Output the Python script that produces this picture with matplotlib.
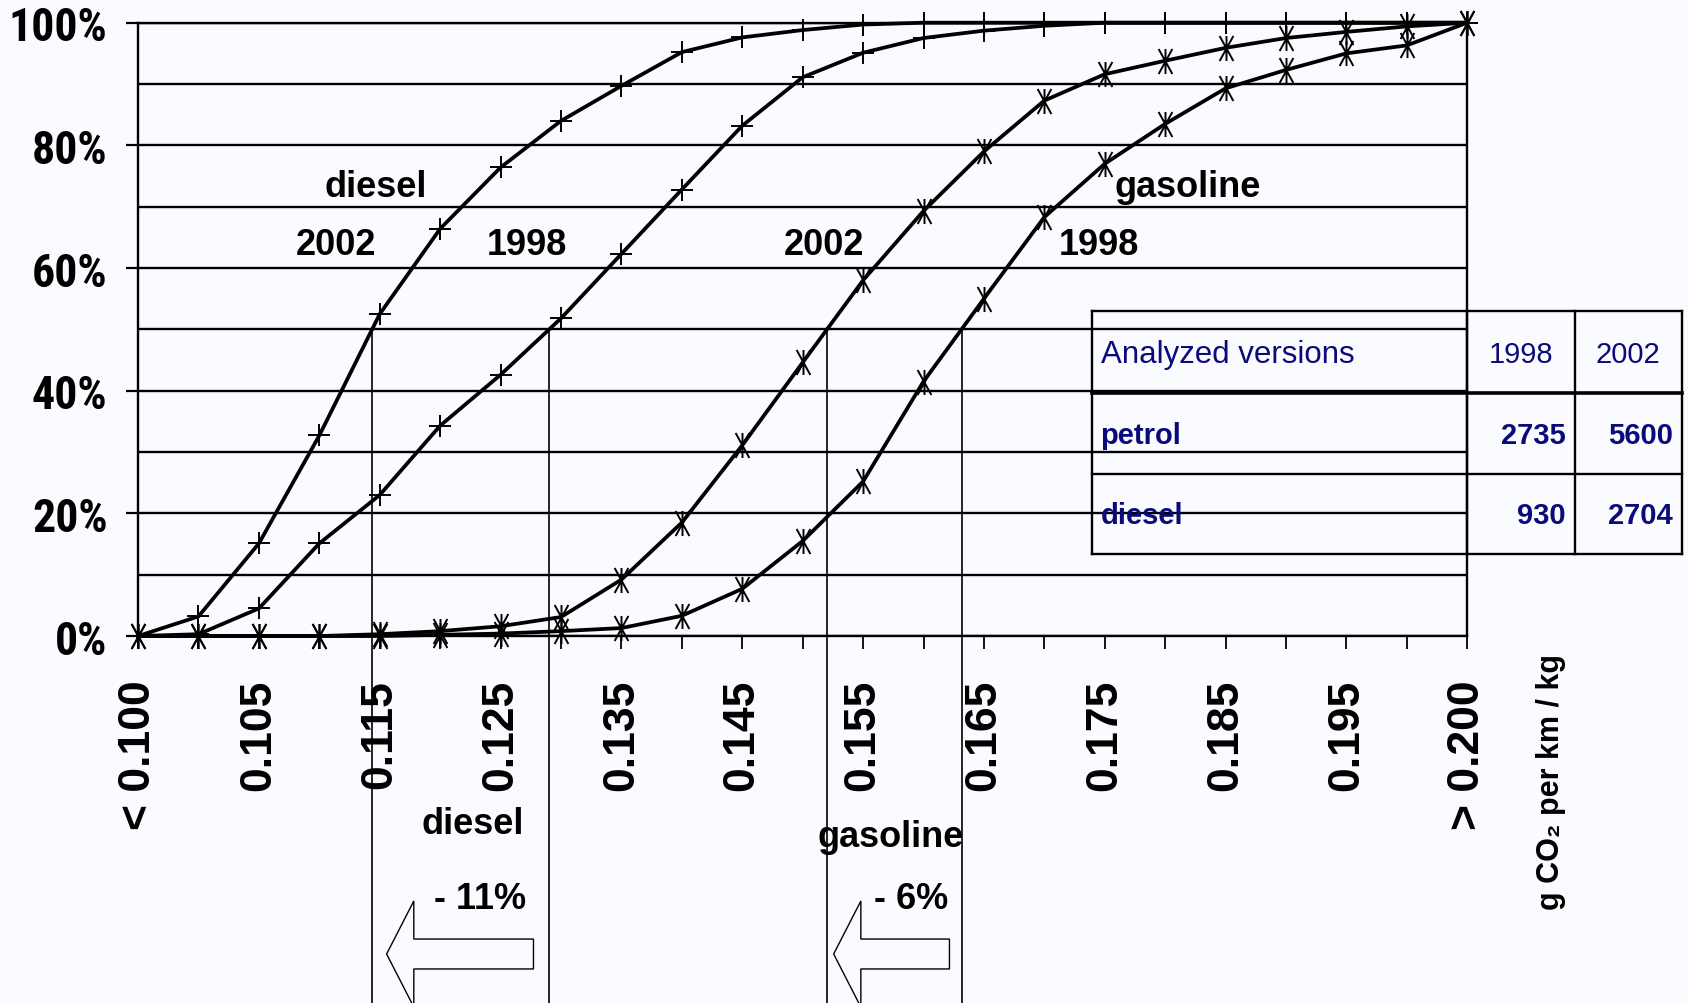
"""Cumulative distribution of CO2 per km / kg, diesel vs gasoline, 1998 vs 2002."""

import matplotlib

matplotlib.use("Agg")
import matplotlib.pyplot as plt
import numpy as np
from matplotlib import font_manager
from matplotlib.patches import Polygon
from matplotlib.path import Path
from matplotlib.transforms import blended_transform_factory

# ---- data -------------------------------------------------------------
categories = [
    "< 0.100", "0.100", "0.105", "0.110", "0.115", "0.120", "0.125", "0.130",
    "0.135", "0.140", "0.145", "0.150", "0.155", "0.160", "0.165", "0.170",
    "0.175", "0.180", "0.185", "0.190", "0.195", "0.200", "> 0.200",
]
diesel_2002 = [0, 3.2, 15.1, 32.7, 52.5, 66.4, 76.4, 84.0, 89.7, 95.2, 97.6, 98.8,
               99.7, 100, 100, 100, 100, 100, 100, 100, 100, 100, 100]
diesel_1998 = [0, 0.3, 4.5, 15.1, 23.0, 34.3, 42.6, 51.8, 62.3, 72.8, 83.2, 91.1,
               95.1, 97.5, 98.7, 99.5, 100, 100, 100, 100, 100, 100, 100]
gasoline_2002 = [0, 0, 0, 0, 0.3, 0.8, 1.6, 3.1, 9.2, 18.5, 31.1, 44.6,
                 58.0, 69.3, 79.0, 87.3, 91.6, 93.8, 95.9, 97.5, 98.5, 99.4, 100]
gasoline_1998 = [0, 0, 0, 0, 0, 0.2, 0.4, 0.8, 1.3, 3.3, 7.7, 15.5,
                 25.2, 41.5, 55.0, 68.3, 77.0, 83.5, 89.3, 92.3, 95.0, 96.3, 100]

pct_ticks = [0, 20, 40, 60, 80, 100]
pct_labels = ["0%", "20%", "40%", "60%", "80%", "100%"]
median_level = 50

table_header = ["Analyzed versions", "1998", "2002"]
table_fuels = ["petrol", "diesel"]
versions_1998 = [2735, 930]
versions_2002 = [5600, 2704]

diesel_cut = "- 11%"
gasoline_cut = "- 6%"

# ---- style ------------------------------------------------------------
BG = "#fafbff"
NAVY = "#0a0a78"
available = {f.name for f in font_manager.fontManager.ttflist}
NARROW = next((n for n in ("Liberation Sans Narrow", "DejaVu Sans Condensed",
                           "Roboto Condensed") if n in available), "Liberation Sans")
SANS = ["Liberation Sans", "DejaVu Sans"]
plt.rcParams["font.family"] = SANS

star = Path([(0, -1), (0, 1), (-0.55, -1), (0.55, 1), (0.55, -1), (-0.55, 1)],
            [Path.MOVETO, Path.LINETO] * 3)

fig = plt.figure(figsize=(16.9, 10.04), dpi=100, facecolor=BG)
ax = fig.add_axes([0.0817, 0.3655, 0.7865, 0.6109])
ax.set_facecolor(BG)
ax.set_axisbelow(True)

x = np.arange(len(categories))
series = [
    (diesel_2002, "+", 16),
    (diesel_1998, "+", 16),
    (gasoline_2002, star, 18),
    (gasoline_1998, star, 18),
]
for vals, marker, ms in series:
    ax.plot(x, vals, color="black", lw=2.7, marker=marker, ms=ms, mew=1.4,
            mec="black", clip_on=False, zorder=3)

ax.set_xlim(0, len(categories) - 1)
ax.set_ylim(0, 100)

ax.set_yticks(pct_ticks, pct_labels)
ax.set_yticks([10, 30, 50, 70, 90], minor=True)
ax.grid(which="both", axis="y", color="black", lw=1.7)
ax.tick_params(axis="y", which="major", length=9, width=1.6, pad=13,
               labelsize=33)
ax.tick_params(axis="y", which="minor", length=0)
for lab in ax.get_yticklabels():
    lab.set_fontfamily(NARROW)
    lab.set_fontweight("bold")

ax.set_xticks(x, [c if i % 2 == 0 else "" for i, c in enumerate(categories)],
              rotation=90, fontsize=32, fontweight="bold")
ax.tick_params(axis="x", length=9, width=1.3, pad=22)
for sp in ax.spines.values():
    sp.set_linewidth(1.7)

# ---- median drop lines --------------------------------------------------
y_bottom = ax.transData.inverted().transform(fig.transFigure.transform((0, 0)))[1]


def cross_x(vals, level):
    vals = np.asarray(vals, dtype=float)
    i = int(np.argmax(vals >= level))
    return i - 1 + (level - vals[i - 1]) / (vals[i] - vals[i - 1])


cross = {}
for name, vals in (("d02", diesel_2002), ("d98", diesel_1998),
                   ("g02", gasoline_2002), ("g98", gasoline_1998)):
    cross[name] = cross_x(vals, median_level)
    ax.plot([cross[name]] * 2, [median_level, y_bottom], color="black", lw=1.2,
            clip_on=False, zorder=2)

# ---- annotations ----------------------------------------------------------
mix = blended_transform_factory(ax.transData, fig.transFigure)
label_kw = dict(ha="center", va="center", fontsize=26, fontweight="bold")

ax.text(3.93, 73.3, "diesel", **label_kw)
ax.text(3.27, 63.8, "2002", **label_kw)
ax.text(6.43, 63.8, "1998", **label_kw)
ax.text(11.36, 63.8, "2002", **label_kw)
ax.text(15.91, 63.8, "1998", **label_kw)
ax.text(17.37, 73.3, "gasoline", **label_kw)

ax.text(5.54, 0.179, "diesel", transform=mix, **label_kw)
ax.text(5.66, 0.104, diesel_cut, transform=mix, **label_kw)
ax.text(12.45, 0.166, "gasoline", transform=mix, **label_kw)
ax.text(12.80, 0.104, gasoline_cut, transform=mix, **label_kw)

ax.text(23.38, 0.349, "g CO\u2082 per km / kg", transform=mix, rotation=90,
        ha="center", va="top", fontsize=22, fontweight="bold")


def block_arrow(x_tip, x_tail, yc=0.0488, shaft=0.0149, head=0.0528, head_len=0.45):
    xb = x_tip + head_len
    verts = [(x_tip, yc), (xb, yc + head), (xb, yc + shaft), (x_tail, yc + shaft),
             (x_tail, yc - shaft), (xb, yc - shaft), (xb, yc - head)]
    ax.add_patch(Polygon(verts, closed=True, transform=mix, facecolor=BG,
                         edgecolor="black", lw=1.0, clip_on=False, zorder=4))


block_arrow(cross["d02"] + 0.24, cross["d98"] - 0.26)
block_arrow(cross["g02"] + 0.11, cross["g98"] - 0.20)

# ---- table of analysed versions ------------------------------------------
tax = fig.add_axes([0.646, 0.4474, 0.349, 0.2416])
tax.set_xlim(0, 1)
tax.set_ylim(0, 1)
tax.axis("off")
col_edges = [0, 0.636, 0.819, 1]
row_edges = [1, 0.662, 0.329, 0]
for xe in col_edges:
    tax.plot([xe, xe], [0, 1], color="black", lw=1.7, clip_on=False)
for k, ye in enumerate(row_edges):
    tax.plot([0, 1], [ye, ye], color="black", lw=2.6 if k == 1 else 1.7,
             clip_on=False)

tax.text(0.015, 0.822, table_header[0], color=NAVY, fontsize=22.5,
         ha="left", va="center")
tax.text(0.728, 0.822, table_header[1], color=NAVY, fontsize=21,
         ha="center", va="center")
tax.text(0.909, 0.822, table_header[2], color=NAVY, fontsize=21,
         ha="center", va="center")
for fuel, v98, v02, yc in zip(table_fuels, versions_1998, versions_2002,
                              [0.489, 0.160]):
    tax.text(0.015, yc, fuel, color=NAVY, fontsize=21, fontweight="bold",
             ha="left", va="center")
    tax.text(0.804, yc, str(v98), color=NAVY, fontsize=21, fontweight="bold",
             ha="right", va="center")
    tax.text(0.985, yc, str(v02), color=NAVY, fontsize=21, fontweight="bold",
             ha="right", va="center")

fig.savefig("out.png", dpi=100, facecolor=BG)
